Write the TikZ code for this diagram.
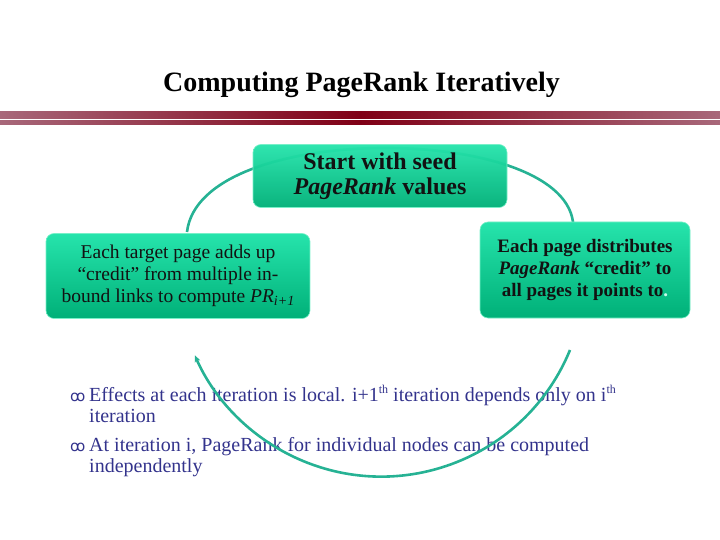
\documentclass[tikz,border=0pt]{standalone}
\usepackage{fontspec}
\setmainfont{Liberation Serif}
\newfontfamily\symfont{DejaVu Sans}
\usetikzlibrary{arrows.meta}
\definecolor{arcc}{RGB}{38,178,148}
\definecolor{boxtop}{RGB}{38,228,172}
\definecolor{boxbot}{RGB}{0,176,120}
\definecolor{boxedge}{RGB}{120,240,200}
\definecolor{bul}{RGB}{51,51,140}
\definecolor{barend}{RGB}{168,104,122}
\definecolor{barmid}{RGB}{128,0,22}
\definecolor{ink}{RGB}{18,18,18}
\newcommand{\supth}{\raisebox{0.8ex}{\fontsize{12}{12}\selectfont th}}
\begin{document}
\begin{tikzpicture}[x=1pt,y=1pt,
  gbox/.style={rounded corners=8pt, top color=boxtop, bottom color=boxbot,
    draw=boxedge, line width=0.6pt, align=center, inner sep=0pt, text=ink},
  cyc/.style={draw=arcc, line width=2.6pt},
  barstyle/.style={left color=barend, right color=barend, middle color=barmid, draw=none},
  bultxt/.style={anchor=base west, inner sep=0pt, text=bul, font=\fontsize{20}{22}\selectfont},
  bulsym/.style={anchor=base west, inner sep=0pt, text=bul, font=\symfont\fontsize{15}{16}\selectfont}]
\useasboundingbox (0,0) rectangle (720,-540);

% title
\node[anchor=base, inner sep=0pt, font=\fontsize{28}{30}\selectfont\bfseries] (title) at (361.5,-92) {Computing PageRank Iteratively};

% bars
\fill[barstyle] (0,-112) rectangle (720,-118.5);
\fill[barstyle] (0,-121) rectangle (720,-125);

% bullet text
\node[bulsym] (s1) at (70,-401) {ꝏ};
\node[bultxt] (l1) at (89,-401) {Effects at each iteration is local. i+1\supth{} iteration depends only on i\supth};
\node[bultxt] (l2) at (89,-422) {iteration};
\node[bulsym] (s2) at (70,-451) {ꝏ};
\node[bultxt] (l3) at (89,-451) {At iteration i, PageRank for individual nodes can be computed};
\node[bultxt] (l4) at (89,-472) {independently};

% cycle connectors
\coordinate (lt) at (187,-232);
\coordinate (tm) at (380,-148);
\coordinate (rt) at (573,-222);
\coordinate (rb) at (570,-350);
\draw[cyc] (lt) .. controls (193.5,-176) and (286.75,-149) .. (tm);
\draw[cyc] (tm) .. controls (473.25,-147) and (566.5,-172) .. (rt);
\draw[cyc, -{Stealth[length=7pt,width=6pt]}] (rb) arc[start angle=-22.3, end angle=-156.1, radius=204];

% boxes
\node[gbox, fill opacity=0.96, text opacity=1, minimum width=254pt, minimum height=63pt,
  font=\fontsize{24}{25}\selectfont\bfseries] (top) at (380,-176)
  {Start with seed\\\textit{PageRank} values};
\node[gbox, minimum width=264pt, minimum height=85pt,
  font=\fontsize{19.5}{22}\selectfont] (left) at (178,-276)
  {Each target page adds up\\``credit'' from multiple in-\\bound links to compute \textit{PR}\raisebox{-0.35ex}{\fontsize{14}{14}\selectfont\itshape i+1}};
\node[gbox, minimum width=210pt, minimum height=96pt,
  font=\fontsize{19}{22}\selectfont\bfseries] (right) at (585,-270)
  {Each page distributes\\\textit{PageRank} ``credit'' to\\all pages it points to\textcolor{boxedge!40!white}{.}};
\end{tikzpicture}
\end{document}
